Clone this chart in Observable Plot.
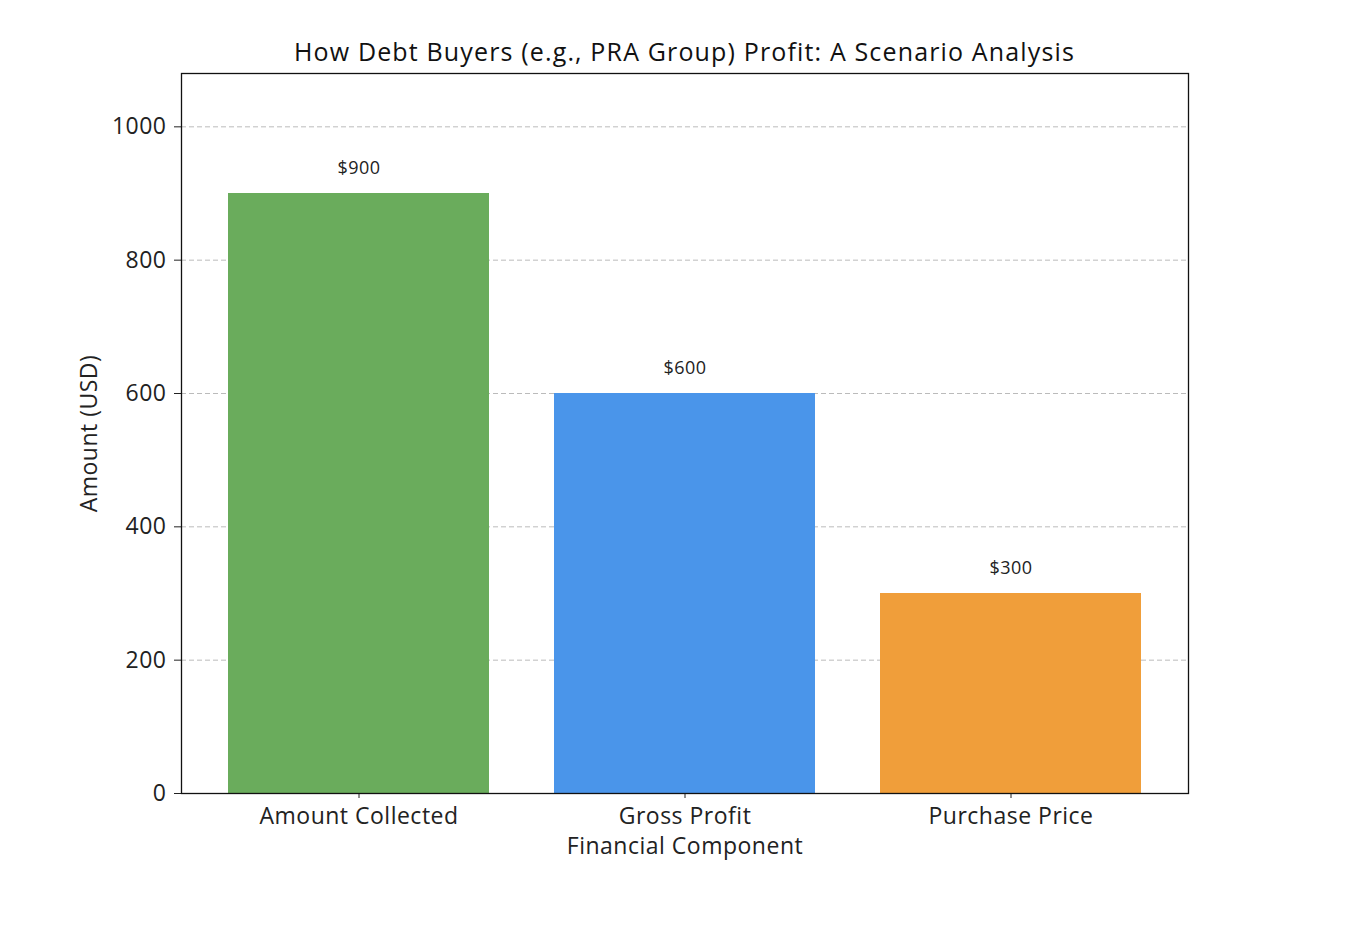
<!DOCTYPE html>
<html>
<head>
<meta charset="utf-8">
<script src="https://cdn.jsdelivr.net/npm/d3@7"></script>
<script src="https://cdn.jsdelivr.net/npm/@observablehq/plot@0.6"></script>
<style>
  html, body { margin: 0; padding: 0; background: #fff; }
  #wrap { position: relative; width: 1364px; height: 934px; font-family: "Open Sans", sans-serif; }
  #title { position: absolute; left: 131px; width: 1107px; top: 35px; text-align: center; font-size: 25px; letter-spacing: 1.15px; color: #111; line-height: 32px; }
  #chart { position: absolute; left: 0; top: 0; }
  #chart svg text { letter-spacing: 0.5px; }
</style>
</head>
<body>
<div id="wrap">
  <div id="chart"></div>
  <div id="title">How Debt Buyers (e.g., PRA Group) Profit: A Scenario Analysis</div>
</div>
<script>
const categories = ["Amount Collected", "Gross Profit", "Purchase Price"];
const amounts = [900, 600, 300];
const valueLabels = ["$900", "$600", "$300"];
const yTicks = [0, 200, 400, 600, 800, 1000];
const barColors = ["#6aac5c", "#4a95ea", "#f09e3a"];

const data = categories.map((c, i) => ({category: c, amount: amounts[i], label: valueLabels[i]}));

const chart = Plot.plot({
  width: 1364,
  height: 934,
  marginLeft: 181,
  marginRight: 176,
  marginTop: 73,
  marginBottom: 141,
  style: {fontFamily: "Open Sans, sans-serif", background: "#fff", color: "#222"},
  x: {domain: categories, paddingInner: 0.2, paddingOuter: 0.14},
  y: {domain: [0, 1080]},
  color: {domain: categories, range: barColors},
  marks: [
    Plot.gridY(yTicks.filter(d => d > 0), {stroke: "#bbb", strokeOpacity: 1, strokeDasharray: "5,3", strokeWidth: 1}),
    Plot.barY(data, {x: "category", y: "amount", fill: "category"}),
    Plot.text(data, {x: "category", y: "amount", text: "label", dy: -25, fontSize: 18, fill: "#222"}),
    Plot.axisY({ticks: yTicks, tickFormat: d3.format("d"), tickSize: 7, tickPadding: 8, fontSize: 23, label: "Amount (USD)", labelAnchor: "center", labelArrow: "none", labelOffset: 101}),
    Plot.axisX({tickSize: 5, tickPadding: 9, fontSize: 23, label: "Financial Component", labelAnchor: "center", labelArrow: "none", labelOffset: 60}),
    Plot.frame({stroke: "#111", strokeWidth: 1.3})
  ]
});
document.getElementById("chart").appendChild(chart);
</script>
</body>
</html>
